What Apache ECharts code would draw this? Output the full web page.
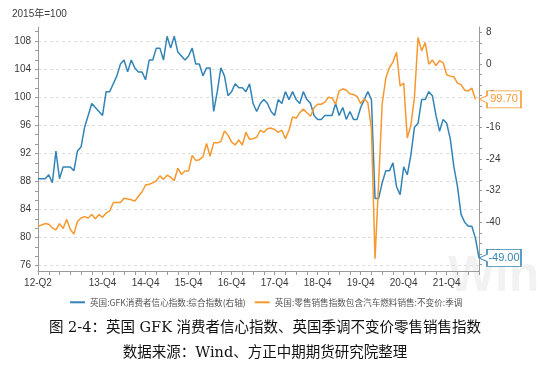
<!DOCTYPE html>
<html><head><meta charset="utf-8">
<script src="https://cdn.jsdelivr.net/npm/echarts@6/dist/echarts.min.js"></script>
<style>html,body{margin:0;padding:0;background:#fff}#c{width:540px;height:371px}</style>
</head><body><div id="c"></div>
<script>
// monthly categories 2012-06 .. 2022-09
const months = [];
for (let y = 2012; y <= 2022; y++) {
  for (let m = 1; m <= 12; m++) {
    if ((y === 2012 && m < 6) || (y === 2022 && m > 9)) continue;
    months.push(y + '-' + String(m).padStart(2, '0'));
  }
}
const xTickLabels = ['12-Q2','13-Q4','14-Q4','15-Q4','16-Q4','17-Q4','18-Q4','19-Q4','20-Q4','21-Q4'];
const leftTicks = [76, 80, 84, 88, 92, 96, 100, 104, 108];
const rightTicks = [-48, -40, -32, -24, -16, -8, 0, 8];

// 英国:GFK消费者信心指数:综合指数 (right axis)
const gfk = [
  -29,-29,-29,-28,-30,-22,-29,
  -26,-26,-26,-27,-22,-21,-16,-13,-10,-11,-12,-13,
  -7,-7,-5,-3,0,1,-2,1,-1,-2,-2,-4,
  1,1,4,4,1,7,4,7,3,2,1,2,
  4,0,0,-3,-1,-1,-12,-7,-1,-3,-8,-7,
  -5,-6,-6,-7,-5,-10,-12,-10,-9,-10,-12,-13,
  -9,-10,-7,-9,-7,-9,-10,-7,-9,-10,-13,-14,
  -14,-13,-13,-13,-10,-13,-11,-14,-12,-14,-14,-11,
  -9,-7,-9,-34,-34,-30,-27,-27,-25,-31,-33,-26,
  -28,-23,-16,-15,-9,-9,-7,-8,-13,-17,-14,-15,
  -19,-26,-31,-38,-40,-41,-41,-44,-49
];
// 英国:零售销售指数包含汽车燃料销售:不变价:季调 (left axis, 2015年=100)
const retail = [
  81.6,81.8,82.0,81.9,81.4,81.1,82.0,
  81.3,82.6,81.2,80.5,82.3,82.8,83.0,82.8,83.3,82.7,83.3,82.9,
  83.5,83.8,85.0,85.0,85.0,85.6,85.5,85.4,85.2,85.9,86.5,87.5,
  87.6,87.8,88.1,88.8,88.3,88.9,88.6,88.1,89.9,89.0,89.5,89.5,
  91.7,91.0,91.1,91.5,93.4,91.6,93.5,93.5,93.7,95.2,94.6,93.6,
  93.2,93.9,93.2,95.0,94.0,94.1,94.3,95.3,95.0,95.5,95.6,95.4,
  95.0,95.3,94.1,95.3,97.2,97.0,97.8,98.3,97.8,97.3,98.5,99.0,
  99.0,99.3,100.0,99.9,99.0,100.9,101.2,101.0,100.5,100.4,100.1,99.1,
  99.8,99.2,95.5,77.0,87.7,99.1,102.7,104.2,105.0,106.4,101.6,102.0,
  94.2,96.0,100.0,108.5,106.6,107.8,104.7,105.3,104.5,105.2,104.9,103.2,
  103.0,102.9,102.0,101.8,101.0,100.9,101.3,99.7,null
];

const BLUE = '#3384b6';
const ORANGE = '#f7982f';
const AXIS = '#9a9a9a';
const LABEL = '#3a3a3a';
const FONT = "'Liberation Sans','Noto Sans CJK SC',sans-serif";
const TITLE_FONT = "'DejaVu Serif','Noto Sans CJK SC',serif";
const CALLOUT = 'path://M0 8.5 L8 5 L8 0 L42 0 L42 17 L8 17 L8 12 Z';

function withMinor(ticks) {
  const step = (ticks[1] - ticks[0]) / 3;
  const out = [];
  for (let k = 0; k < ticks.length; k++) {
    out.push(ticks[k], ticks[k] + step, ticks[k] + 2 * step);
  }
  out.push(ticks[0] - step, ticks[0] - 2 * step);
  return out;
}
function toQ(v) {
  const y = v.slice(2, 4), m = +v.slice(5, 7);
  return { q: y + '-Q' + Math.ceil(m / 3), end: m % 3 === 0 };
}
const lastIdx = months.length - 1;
let lastRetail = retail.length - 1;
while (retail[lastRetail] == null) lastRetail--;

function endMark(color, value) {
  return {
    symbol: CALLOUT, symbolSize: [42, 17], symbolOffset: [21, 0],
    silent: true, animation: false,
    itemStyle: { color: '#fff', borderColor: color, borderWidth: 1 },
    label: { show: true, position: 'inside', offset: [4, 0], color: color, fontSize: 11, fontFamily: FONT,
      formatter: p => Number(p.value).toFixed(2) },
    data: [{ coord: [months[lastIdx], value], value: value }]
  };
}

const LMIN = 75.25, LMAX = 110, RMIN = -52.3, RMAX = 9.34;

const chart = echarts.init(document.getElementById('c'), null, { renderer: 'canvas' });
chart.setOption({
  animation: false,
  backgroundColor: '#fff',
  grid: { left: 38, right: 61, top: 27, bottom: 100, containLabel: false },
  legend: {
    left: 65, top: 293, itemWidth: 15, itemHeight: 2, itemGap: 9, icon: 'rect',
    textStyle: { fontSize: 8.6, color: '#555', fontFamily: "'Noto Sans CJK SC',sans-serif" },
    data: ['英国:GFK消费者信心指数:综合指数(右轴)', '英国:零售销售指数包含汽车燃料销售:不变价:季调']
  },
  xAxis: {
    type: 'category', data: months, boundaryGap: false,
    axisLine: { onZero: false, lineStyle: { color: AXIS } },
    axisTick: { show: true, length: 4, lineStyle: { color: AXIS },
      interval: (i, v) => toQ(v).end },
    axisLabel: { color: LABEL, fontSize: 10, fontFamily: FONT, margin: 7,
      interval: (i, v) => { const t = toQ(v); return t.end && xTickLabels.indexOf(t.q) >= 0; },
      formatter: v => toQ(v).q },
    splitLine: { show: false }
  },
  yAxis: [
    { type: 'value', position: 'left', min: LMIN, max: LMAX,
      axisLine: { show: true, lineStyle: { color: AXIS } },
      axisTick: { show: true, length: 3, lineStyle: { color: AXIS }, customValues: withMinor(leftTicks).filter(v => v > LMIN && v < LMAX) },
      axisLabel: { color: LABEL, fontSize: 10, fontFamily: FONT, margin: 7, customValues: leftTicks },
      splitLine: { show: false } },
    { type: 'value', position: 'right', min: RMIN, max: RMAX,
      axisLine: { show: true, lineStyle: { color: AXIS } },
      axisTick: { show: true, length: 3, lineStyle: { color: AXIS }, customValues: withMinor(rightTicks).filter(v => v > RMIN && v < RMAX) },
      axisLabel: { color: LABEL, fontSize: 10, fontFamily: FONT, margin: 7, customValues: rightTicks },
      splitLine: { show: false } },
    { type: 'value', position: 'left', min: LMIN, max: LMAX,
      axisLine: { show: false }, axisLabel: { show: false },
      axisTick: { show: false, customValues: leftTicks },
      splitLine: { show: true, lineStyle: { color: '#dcdcdc', type: [3, 3], width: 1 } } }
  ],
  graphic: [
    { type: 'text', left: 12, top: 9, style: { text: '2015年=100', fontSize: 10, fill: LABEL, fontFamily: FONT } },
    { type: 'text', left: 448, top: 252, z: -10, silent: true,
      style: { text: 'Wind', fontSize: 50, fontWeight: 'bold', fill: 'rgba(0,0,0,0.05)', fontFamily: "'Liberation Sans',sans-serif" } },
    { type: 'text', x: 265, y: 328, style: { text: '图 2-4：英国 GFK 消费者信心指数、英国季调不变价零售销售指数', fontSize: 14.5, fill: '#111',
      fontFamily: TITLE_FONT, align: 'center', verticalAlign: 'middle' } },
    { type: 'text', x: 265, y: 353, style: { text: '数据来源：Wind、方正中期期货研究院整理', fontSize: 14.5, fill: '#111',
      fontFamily: TITLE_FONT, align: 'center', verticalAlign: 'middle' } }
  ],
  series: [
    { name: '英国:GFK消费者信心指数:综合指数(右轴)', type: 'line', yAxisIndex: 1, data: gfk,
      symbol: 'none', showSymbol: false, z: 3,
      lineStyle: { width: 1.5, color: BLUE }, itemStyle: { color: BLUE },
      markPoint: endMark(BLUE, gfk[lastIdx]) },
    { name: '英国:零售销售指数包含汽车燃料销售:不变价:季调', type: 'line', yAxisIndex: 0, data: retail,
      symbol: 'none', showSymbol: false, z: 3, connectNulls: false,
      lineStyle: { width: 1.5, color: ORANGE }, itemStyle: { color: ORANGE },
      markPoint: endMark(ORANGE, retail[lastRetail]) }
  ]
});
</script></body></html>
